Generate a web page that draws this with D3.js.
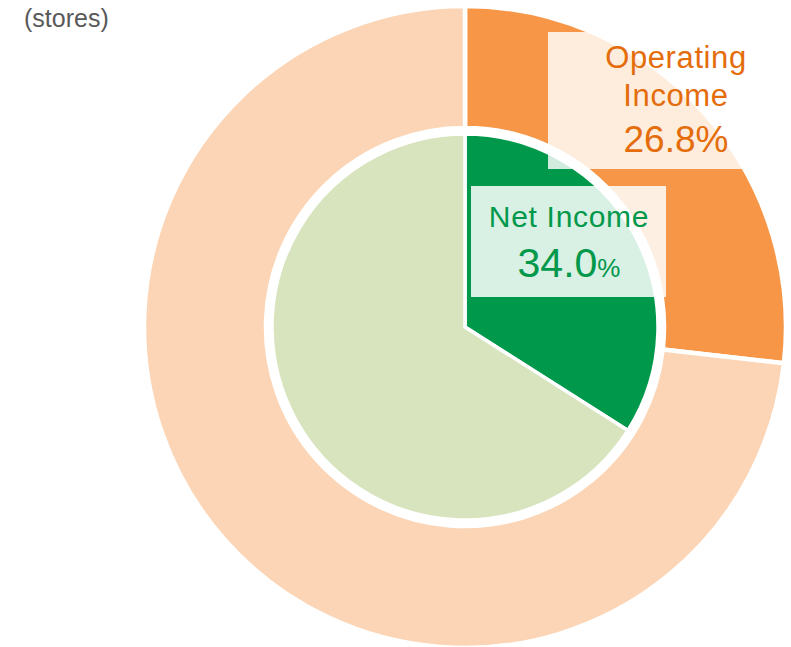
<!DOCTYPE html>
<meta charset="utf-8">
<head>
	<title>Income ratio</title>
	<script src="https://cdnjs.cloudflare.com/ajax/libs/d3/7.8.5/d3.min.js"></script>
</head>
<style type="text/css">
	body { margin: 0; background: #fff; font-family: "Liberation Sans", Arial, sans-serif; }
</style>
<body>
<div id="chart"></div>
<script>
	// outer ring = operating income, inner pie = net income
	var outerNames = ["Operating Income", "Other"];
	var outerValues = [26.8, 73.2];
	var innerNames = ["Net Income", "Other"];
	var innerValues = [34.0, 66.0];

	var width = 791, height = 647;
	var cx = 465, cy = 327;

	var svg = d3.select("#chart").append("svg")
		.attr("width", width)
		.attr("height", height);

	svg.append("text")
		.attr("x", 24).attr("y", 27)
		.attr("fill", "#595959")
		.style("font-size", "25px")
		.text("(stores)");

	var pie = d3.pie().sort(null);
	var g = svg.append("g").attr("transform", "translate(" + cx + "," + cy + ")");

	var outerArc = d3.arc().innerRadius(199).outerRadius(321);
	var outerColor = d3.scaleOrdinal().domain(outerNames).range(["#F79646", "#FBD5B5"]);
	g.selectAll(".outer")
		.data(pie(outerValues))
	 .enter().append("path")
		.attr("class", "outer")
		.attr("d", outerArc)
		.attr("fill", function(d, i) { return outerColor(outerNames[i]); })
		.attr("stroke", "#fff")
		.attr("stroke-width", 4.5);

	var innerArc = d3.arc().innerRadius(0).outerRadius(193);
	var innerColor = d3.scaleOrdinal().domain(innerNames).range(["#00984A", "#D7E4BD"]);
	g.selectAll(".inner")
		.data(pie(innerValues))
	 .enter().append("path")
		.attr("class", "inner")
		.attr("d", innerArc)
		.attr("fill", function(d, i) { return innerColor(innerNames[i]); })
		.attr("stroke", "#fff")
		.attr("stroke-width", 3.5);

	// operating income label
	svg.append("rect")
		.attr("x", 548).attr("y", 32).attr("width", 260).attr("height", 137)
		.attr("fill", "#fff").attr("fill-opacity", 0.82);
	var opLabel = svg.append("text")
		.attr("text-anchor", "middle")
		.attr("fill", "#E46C0A");
	opLabel.append("tspan").attr("x", 676).attr("y", 68)
		.style("font-size", "31px").style("letter-spacing", "0.6px").text("Operating");
	opLabel.append("tspan").attr("x", 676).attr("y", 106)
		.style("font-size", "31px").style("letter-spacing", "0.6px").text("Income");
	opLabel.append("tspan").attr("x", 676).attr("y", 152)
		.style("font-size", "37px").text(d3.format(".1f")(outerValues[0]) + "%");

	// net income label
	svg.append("rect")
		.attr("x", 471).attr("y", 186).attr("width", 195).attr("height", 111)
		.attr("fill", "#fff").attr("fill-opacity", 0.85);
	var niLabel = svg.append("text")
		.attr("text-anchor", "middle")
		.attr("fill", "#00984A");
	niLabel.append("tspan").attr("x", 569).attr("y", 227)
		.style("font-size", "30px").style("letter-spacing", "0.7px").text("Net Income");
	var pct = niLabel.append("tspan").attr("x", 569).attr("y", 277);
	pct.append("tspan").style("font-size", "41px").text(d3.format(".1f")(innerValues[0]));
	pct.append("tspan").style("font-size", "26px").text("%");
</script>
</body>
